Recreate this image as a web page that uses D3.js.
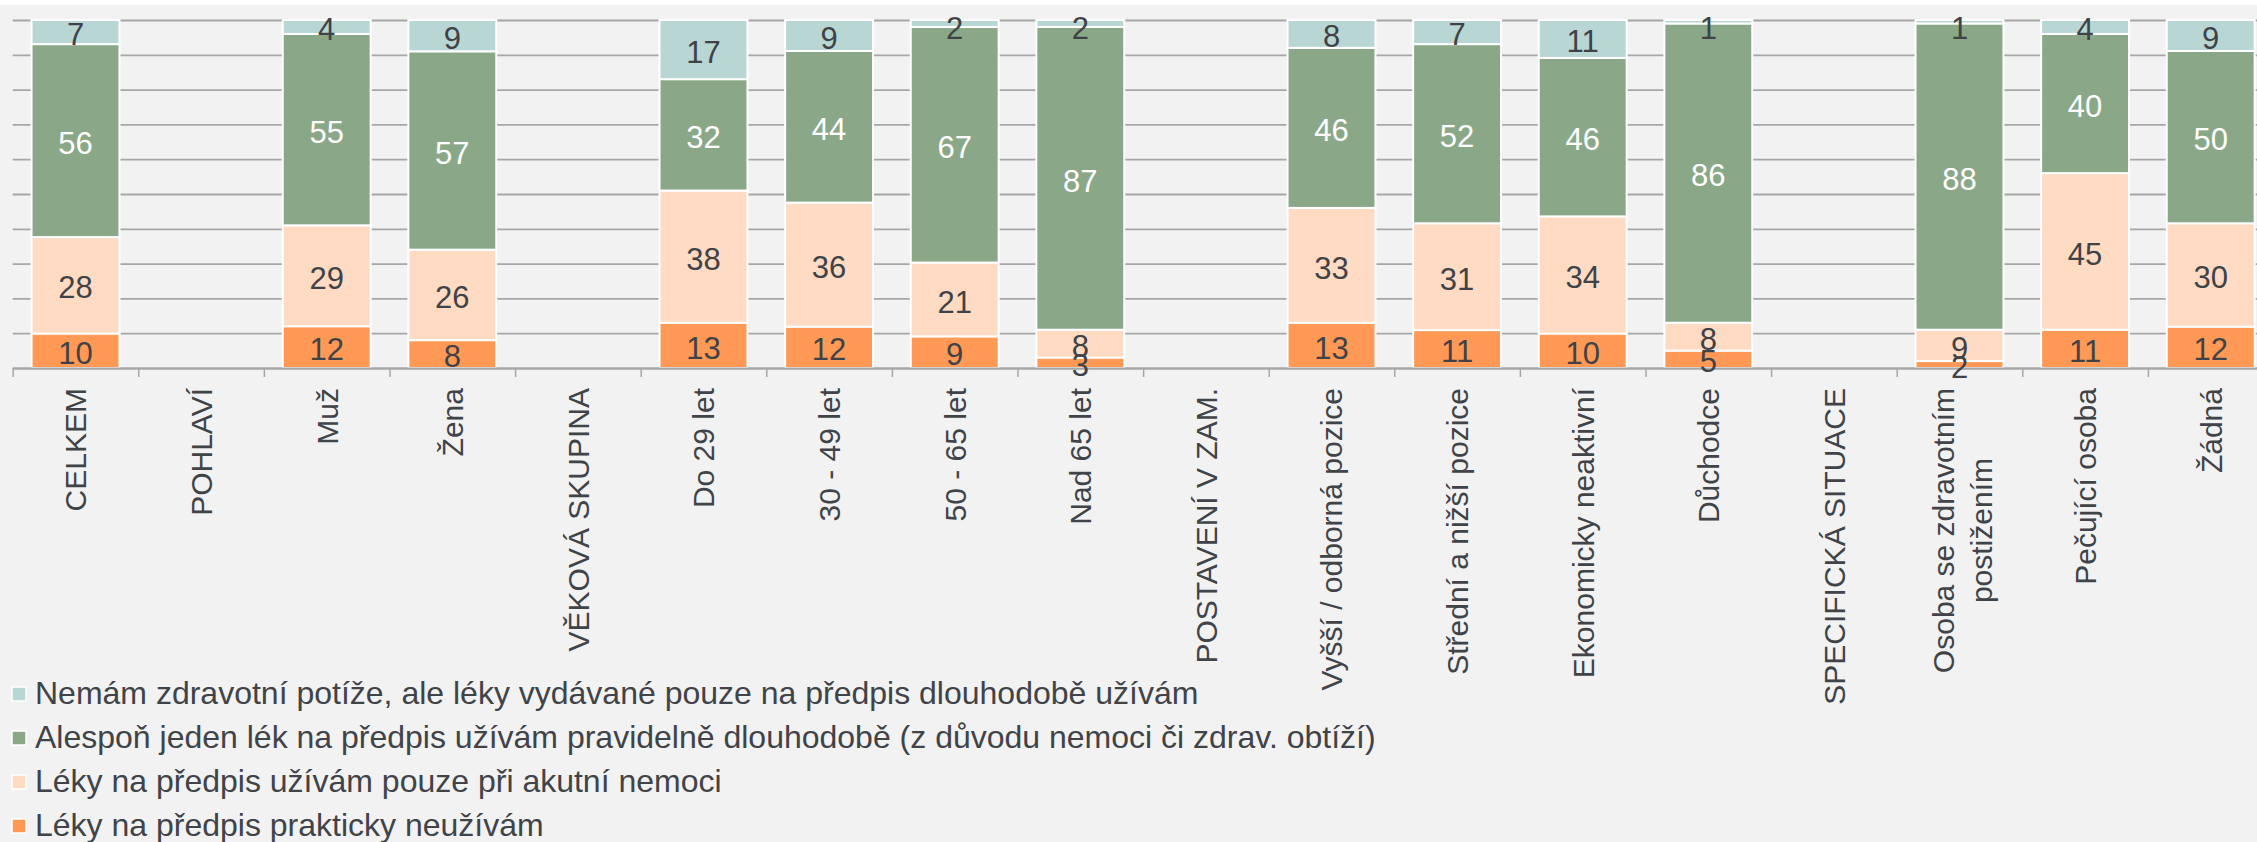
<!DOCTYPE html>
<html>
<head>
<meta charset="utf-8">
<script src="https://cdn.jsdelivr.net/npm/d3@7"></script>
<style>
  body { margin: 0; background: #ffffff; }
  svg text { font-family: "Liberation Sans", Arial, sans-serif; }
</style>
</head>
<body>
<svg id="svg"></svg>
<script>
//data
const categories = ['CELKEM', 'POHLAVÍ', 'Muž', 'Žena', 'VĚKOVÁ SKUPINA', 'Do 29 let', '30 - 49 let', '50 - 65 let', 'Nad 65 let',
  'POSTAVENÍ V ZAM.', 'Vyšší / odborná pozice', 'Střední a nižší pozice', 'Ekonomicky neaktivní', 'Důchodce',
  'SPECIFICKÁ SITUACE', 'Osoba se zdravotním\npostižením', 'Pečující osoba', 'Žádná']
const neuzivam = [10, 0, 12, 8, 0, 13, 12, 9, 3, 0, 13, 11, 10, 5, 0, 2, 11, 12]
const akutni = [28, 0, 29, 26, 0, 38, 36, 21, 8, 0, 33, 31, 34, 8, 0, 9, 45, 30]
const dlouhodobe = [56, 0, 55, 57, 0, 32, 44, 67, 87, 0, 46, 52, 46, 86, 0, 88, 40, 50]
const bezPotizi = [7, 0, 4, 9, 0, 17, 9, 2, 2, 0, 8, 7, 11, 1, 0, 1, 4, 9]
const seriesNames = [
  'Léky na předpis prakticky neužívám',
  'Léky na předpis užívám pouze při akutní nemoci',
  'Alespoň jeden lék na předpis užívám pravidelně dlouhodobě (z důvodu nemoci či zdrav. obtíží)',
  'Nemám zdravotní potíže, ale léky vydávané pouze na předpis dlouhodobě užívám'
]
const seriesColors = ['#ff9955', '#ffdbc3', '#8aa888', '#b8d6d4']
const seriesText = ['#3f4246', '#3f4246', '#ffffff', '#3f4246']

//declarations
let width = 2257
let height = 842
let margin = {top: 20, left: 12.7, bottom: 474}
let step = 125.6
let svg = d3.select('#svg').attr('width', width).attr('height', height)

svg.append('rect').attr('width', width).attr('height', height).attr('fill', '#ffffff')
svg.append('rect').attr('y', 5).attr('width', width).attr('height', height - 5).attr('fill', '#f2f2f2')

let table = categories.map((c, i) => ({cat: c, s0: neuzivam[i], s1: akutni[i], s2: dlouhodobe[i], s3: bezPotizi[i]}))
let keys = ['s0', 's1', 's2', 's3']
let stacked = d3.stack().keys(keys).offset(d3.stackOffsetExpand)(table)

let x0 = margin.left
let x1 = x0 + step * categories.length
let xScale = d3.scaleBand().domain(categories).range([x0, x1]).paddingInner(0.3).paddingOuter(0.15)
let yScale = d3.scaleLinear().domain([0, 1]).range([height - margin.bottom, margin.top])
//----------------------------------------------------------------------------------------------------
//gridlines
let grid = svg.append('g')
  .attr('transform', `translate(${x0},0)`)
  .call(d3.axisLeft(yScale).tickValues(d3.range(0, 11).map(v => v / 10)).tickSize(-(x1 - x0)).tickFormat(''))
grid.select('.domain').remove()
grid.selectAll('.tick line').attr('stroke', '#a6a6a6').attr('stroke-width', 1.8)

//bars
let layers = svg.append('g').selectAll('g').data(stacked).enter().append('g')
  .attr('fill', (d, i) => seriesColors[i])
layers.selectAll('rect')
  .data(d => d.filter(p => p[1] - p[0] > 0))
  .enter().append('rect')
  .attr('x', d => xScale(d.data.cat))
  .attr('y', d => yScale(d[1]))
  .attr('width', xScale.bandwidth())
  .attr('height', d => yScale(d[0]) - yScale(d[1]))
  .attr('stroke', '#ffffff')
  .attr('stroke-width', 2)

//x axis (ticks on category boundaries)
let edge = d3.scaleLinear().domain([0, categories.length]).range([x0, x1])
let xGroup = svg.append('g')
  .attr('transform', `translate(0,${yScale(0)})`)
  .call(d3.axisBottom(edge).tickValues(d3.range(0, categories.length + 1)).tickSize(9).tickFormat('').tickSizeOuter(0))
xGroup.select('.domain').attr('stroke', '#a6a6a6').attr('stroke-width', 2)
xGroup.selectAll('.tick line').attr('stroke', '#a6a6a6').attr('stroke-width', 1.5)

//value labels, drawn above every bar
let labelGroup = svg.append('g')
stacked.forEach((layer, si) => {
  labelGroup.append('g').selectAll('text')
    .data(layer.filter(p => p[1] - p[0] > 0))
    .enter().append('text')
    .attr('x', d => xScale(d.data.cat) + xScale.bandwidth() / 2)
    .attr('y', d => Math.max((yScale(d[0]) + yScale(d[1])) / 2 + 2, 28))
    .attr('dy', '0.36em')
    .attr('text-anchor', 'middle')
    .attr('font-size', 31)
    .attr('fill', seriesText[si])
    .text(d => d.data[layer.key])
})

//category labels
let labelTop = 388
let catLabels = svg.append('g').selectAll('g').data(categories).enter().append('g')
  .attr('transform', d => `translate(${xScale(d) + xScale.bandwidth() / 2},0)`)
catLabels.each(function (d) {
  let lines = d.split('\n')
  let t = d3.select(this).append('text')
    .attr('transform', 'rotate(-90)')
    .attr('font-size', 30)
    .attr('fill', '#404347')
  if (lines.length === 1) {
    t.attr('text-anchor', 'end').attr('x', -labelTop).attr('y', 0).attr('dy', '0.36em').text(d)
  } else {
    let spans = t.attr('text-anchor', 'middle').selectAll('tspan').data(lines).enter().append('tspan')
      .attr('y', (l, i) => (i - (lines.length - 1) / 2) * 38 + 3)
      .attr('dy', '0.36em')
      .text(l => l)
    let longest = d3.max(spans.nodes(), n => n.getComputedTextLength())
    spans.attr('x', -(labelTop + longest / 2))
  }
})
//----------------------------------------------------------------------------------------------------
//legend (top row = top series)
let legend = svg.append('g').selectAll('g').data(d3.range(seriesNames.length).reverse()).enter().append('g')
  .attr('transform', (d, i) => `translate(0,${704 + i * 44})`)
legend.append('rect')
  .attr('x', 12).attr('y', -17).attr('width', 14).attr('height', 14)
  .attr('fill', d => seriesColors[d]).attr('stroke', '#ffffff').attr('stroke-width', 1.5)
legend.append('text')
  .attr('x', 35).attr('y', 0)
  .attr('font-size', 32)
  .attr('fill', '#404347')
  .text(d => seriesNames[d])
</script>
</body>
</html>
